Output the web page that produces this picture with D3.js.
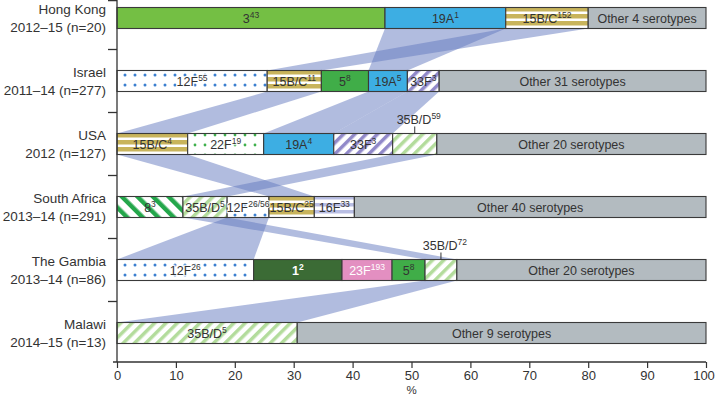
<!DOCTYPE html>
<html>
<head>
<meta charset="utf-8">
<script src="https://cdn.jsdelivr.net/npm/d3@7"></script>
<style>
  body { margin: 0; background: #fff; }
  svg { display: block; font-family: "Liberation Sans", Arial, sans-serif; }
</style>
</head>
<body>
<svg id="chart" width="716" height="404"></svg>
<script>
// Serotype share by site — stacked bars with ribbons joining shared serotypes

const ROWS = ["Hong Kong", "Israel", "USA", "South Africa", "The Gambia", "Malawi"];
const ROW_SUB = ["2012–15 (n=20)", "2011–14 (n=277)", "2012 (n=127)",
                 "2013–14  (n=291)", "2013–14 (n=86)", "2014–15 (n=13)"];

// [serotype, sequence type (superscript), % of isolates]
const HONG_KONG = [["3", "43", 45.5], ["19A", "1", 20.5], ["15B/C", "152", 14], ["Other 4 serotypes", "", 20]];
const ISRAEL = [["12F", "55", 25.5], ["15B/C", "11", 9.2], ["5", "8", 8], ["19A", "5", 6.6],
                ["33F", "3", 5.4], ["Other 31 serotypes", "", 45.3]];
const USA = [["15B/C", "4", 12], ["22F", "19", 12.9], ["19A", "4", 11.9], ["33F", "3", 10],
             ["35B/D", "59", 7.5], ["Other 20 serotypes", "", 45.7]];
const SOUTH_AFRICA = [["8", "3", 11.2], ["35B/D", "5", 7.5], ["12F", "26/56", 7.1], ["15B/C", "25", 7.7],
                      ["16F", "33", 6.8], ["Other 40 serotypes", "", 59.7]];
const GAMBIA = [["12F", "26", 23.2], ["1", "2", 15], ["23F", "193", 8.5], ["5", "8", 5.6],
                ["35B/D", "72", 5.4], ["Other 20 serotypes", "", 42.3]];
const MALAWI = [["35B/D", "5", 30.6], ["Other 9 serotypes", "", 69.4]];
const DATA = [HONG_KONG, ISRAEL, USA, SOUTH_AFRICA, GAMBIA, MALAWI];

// segments whose label sits above the bar with a leader line
const CALLOUTS = ["USA|35B/D", "The Gambia|35B/D"];
const X_TICKS = [0, 10, 20, 30, 40, 50, 60, 70, 80, 90, 100];

const svg = d3.select("#chart");
const defs = svg.append("defs");
const INK = "#333";

// ── fills ──
function stripes(id, color, width, period, angle) {
  const p = defs.append("pattern").attr("id", id).attr("patternUnits", "userSpaceOnUse")
    .attr("width", period).attr("height", period)
    .attr("patternTransform", `rotate(${angle})`);
  p.append("rect").attr("width", period).attr("height", period).attr("fill", "#fff");
  p.append("rect").attr("width", width).attr("height", period).attr("fill", color);
}
function dots(id, color, step, r) {
  const p = defs.append("pattern").attr("id", id).attr("patternUnits", "userSpaceOnUse")
    .attr("width", step).attr("height", step);
  p.append("rect").attr("width", step).attr("height", step).attr("fill", "#fff");
  p.append("circle").attr("cx", step / 2).attr("cy", step / 2).attr("r", r).attr("fill", color);
}
stripes("p15bc", "#c8b45c", 4.5, 7, 90);
stripes("p16f", "#b9bee3", 3.5, 7, 90);
stripes("p33f", "#9189c9", 3.5, 8, 45);
stripes("p35bd", "#b3dc9c", 3.5, 8, 45);
stripes("p8", "#24a74b", 4.5, 11, -45);
dots("p12f", "#3b7fd0", 10, 1.5);
dots("p22f", "#3fb04c", 10, 1.4);

const FILL = {
  "3": "#74bf44", "19A": "#3daee3", "15B/C": "url(#p15bc)", "5": "#40ad48",
  "12F": "url(#p12f)", "33F": "url(#p33f)", "22F": "url(#p22f)", "35B/D": "url(#p35bd)",
  "8": "url(#p8)", "16F": "url(#p16f)", "1": "#3b6b35", "23F": "#e38fc1"
};
const WHITE_TEXT = new Set(["1", "23F"]);
const HALO = new Set(["12F", "22F"]);
const fillOf = s => FILL[s] || "#b3bbc0";

// ── scales ──
const x = d3.scaleLinear().domain([0, 100]).range([117, 706]);
const y = d3.scaleBand().domain(ROWS).range([-13.5, 364.5]);
const BAR_H = 21;
const barTop = r => y(r) + (y.bandwidth() - BAR_H) / 2;
const AXIS_Y = 362;

// stack each row
const rows = ROWS.map((name, i) => {
  let acc = 0;
  const segs = DATA[i].map(([sero, st, pct]) => {
    const s = { row: name, sero, st, x0: acc, x1: acc + pct };
    acc += pct;
    return s;
  });
  return { name, sub: ROW_SUB[i], segs };
});

// ── ribbons between neighbouring rows for shared serotypes ──
const ribbons = [];
for (let i = 0; i < rows.length - 1; i++) {
  const up = rows[i], lo = rows[i + 1];
  up.segs.forEach(u => {
    if (u.sero.startsWith("Other")) return;
    const l = lo.segs.find(s => s.sero === u.sero);
    if (!l) return;
    const yb = barTop(up.name) + BAR_H, yt = barTop(lo.name);
    ribbons.push([[x(u.x0), yb], [x(u.x1), yb], [x(l.x1), yt], [x(l.x0), yt]]);
  });
}
svg.append("g").selectAll("polygon")
  .data(ribbons).join("polygon")
  .attr("points", d => d.map(p => p.join(",")).join(" "))
  .attr("fill", "#6379c0").attr("fill-opacity", 0.5);

// ── bars ──
const segs = rows.flatMap(r => r.segs);
svg.append("g").selectAll("rect")
  .data(segs).join("rect")
  .attr("x", d => x(d.x0)).attr("width", d => x(d.x1) - x(d.x0))
  .attr("y", d => barTop(d.row)).attr("height", BAR_H)
  .attr("fill", d => fillOf(d.sero))
  .attr("stroke", "#3a3a3a").attr("stroke-width", 1.1);

function label(sel, main, sup) {
  sel.append("tspan").text(main);
  if (sup) sel.append("tspan").attr("font-size", 8.5).attr("dy", -4.5).text(sup);
}

const inner = segs.filter(d => !CALLOUTS.includes(`${d.row}|${d.sero}`));
svg.append("g").selectAll("text")
  .data(inner).join("text")
  .attr("x", d => x((d.x0 + d.x1) / 2))
  .attr("y", d => barTop(d.row) + BAR_H / 2 + 4.5)
  .attr("text-anchor", "middle")
  .attr("font-size", 12.5)
  .attr("font-weight", d => d.sero === "1" ? "bold" : null)
  .attr("fill", d => WHITE_TEXT.has(d.sero) ? "#fff" : INK)
  .attr("stroke", d => HALO.has(d.sero) ? "#fff" : null)
  .attr("stroke-width", d => HALO.has(d.sero) ? 2.5 : null)
  .attr("stroke-opacity", 0.8)
  .attr("paint-order", "stroke")
  .each(function (d) { label(d3.select(this), d.sero, d.st); });

// callouts above the bar
const outer = segs.filter(d => CALLOUTS.includes(`${d.row}|${d.sero}`));
const co = svg.append("g").selectAll("g").data(outer).join("g");
co.append("line")
  .attr("x1", d => x((d.x0 + d.x1) / 2)).attr("x2", d => x((d.x0 + d.x1) / 2))
  .attr("y1", d => barTop(d.row) - 7).attr("y2", d => barTop(d.row))
  .attr("stroke", INK).attr("stroke-width", 1);
co.append("text")
  .attr("x", d => x((d.x0 + d.x1) / 2) + 4)
  .attr("y", d => barTop(d.row) - 10)
  .attr("text-anchor", "middle").attr("font-size", 12.5).attr("fill", INK)
  .each(function (d) { label(d3.select(this), d.sero, d.st); });

// ── row labels ──
const rl = svg.append("g").selectAll("text")
  .data(rows).join("text")
  .attr("text-anchor", "end").attr("font-size", 13.5).attr("fill", INK);
rl.append("tspan").attr("x", 106).attr("y", d => barTop(d.name) + BAR_H / 2 - 4.5).text(d => d.name);
rl.append("tspan").attr("x", 106).attr("y", d => barTop(d.name) + BAR_H / 2 + 14).text(d => d.sub);

// ── y axis line with separator ticks ──
const yAxis = svg.append("g").attr("stroke", INK).attr("stroke-width", 1.3);
yAxis.append("line").attr("x1", x(0)).attr("x2", x(0)).attr("y1", 0).attr("y2", AXIS_Y);
yAxis.selectAll("line.sep")
  .data([0.6].concat(ROWS.slice(1).map(r => y(r))))
  .join("line").attr("class", "sep")
  .attr("x1", x(0) - 9).attr("x2", x(0)).attr("y1", d => d).attr("y2", d => d);

// ── x axis ──
const xg = svg.append("g").attr("transform", `translate(0,${AXIS_Y})`)
  .call(d3.axisBottom(x).tickValues(X_TICKS).tickSize(6).tickSizeOuter(0));
xg.select(".domain").remove();
xg.append("line").attr("x1", x(0) - 4).attr("x2", x(100)).attr("stroke", INK).attr("stroke-width", 1.3);
xg.selectAll(".tick line").attr("stroke", INK).attr("stroke-width", 1.2);
xg.selectAll(".tick text").attr("fill", INK).attr("font-size", 13)
  .attr("font-family", "Liberation Sans, Arial, sans-serif")
  .attr("dx", d => d === 100 ? -2.5 : 0);

svg.append("text").attr("x", x(50)).attr("y", 394)
  .attr("text-anchor", "middle").attr("font-size", 11.5).attr("fill", INK).text("%");
</script>
</body>
</html>
